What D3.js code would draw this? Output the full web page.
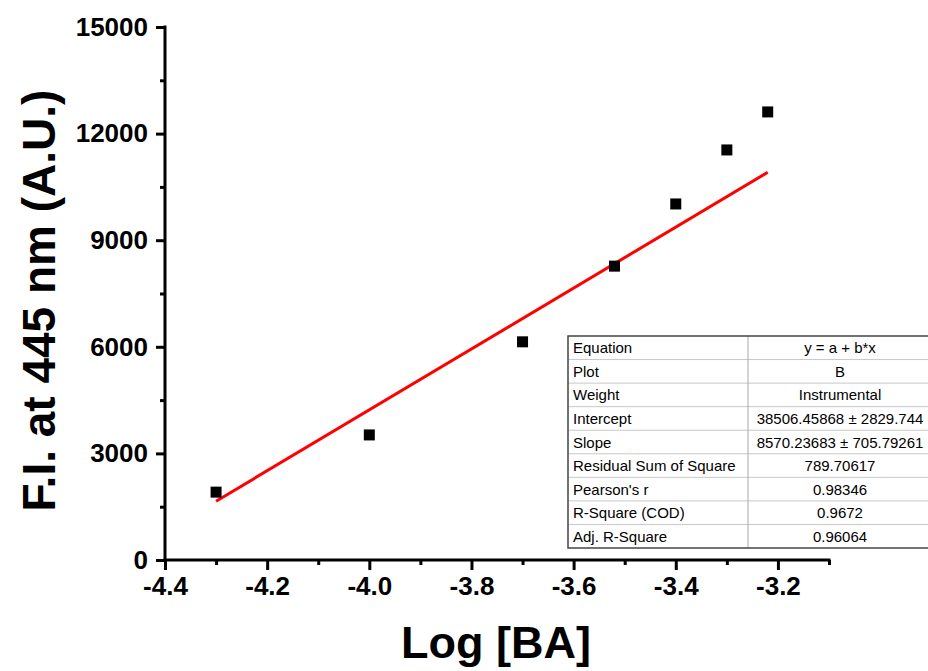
<!DOCTYPE html>
<html>
<head>
<meta charset="utf-8">
<script src="https://cdn.jsdelivr.net/npm/d3@7"></script>
<style>
  html, body { margin: 0; padding: 0; background: #fff; }
  svg { display: block; }
  text { font-family: "Liberation Sans", Arial, sans-serif; }
</style>
</head>
<body>
<svg id="chart" width="928" height="671"></svg>
<script>
// ---- data ----
const logBA = [-4.30, -4.00, -3.70, -3.52, -3.40, -3.30, -3.22];
const fluorescence = [1910, 3520, 6140, 8270, 10020, 11540, 12610];

const xMajorTicks = [-4.4, -4.2, -4.0, -3.8, -3.6, -3.4, -3.2];
const xMinorTicks = [-4.3, -4.1, -3.9, -3.7, -3.5, -3.3, -3.1];
const yMajorTicks = [0, 3000, 6000, 9000, 12000, 15000];
const yMinorTicks = [1500, 4500, 7500, 10500, 13500];

const fitIntercept = 38506.45868;
const fitSlope = 8570.23683;

const tableLabels = ["Equation", "Plot", "Weight", "Intercept", "Slope",
  "Residual Sum of Square", "Pearson's r", "R-Square (COD)", "Adj. R-Square"];
const tableValues = ["y = a + b*x", "B", "Instrumental", "38506.45868 ± 2829.744",
  "8570.23683 ± 705.79261", "789.70617", "0.98346", "0.9672", "0.96064"];

const xTitle = "Log [BA]";
const yTitle = "F.I. at 445 nm (A.U.)";

// ---- layout ----
const svg = d3.select("#chart");
const x = d3.scaleLinear().domain([-4.4, -3.1]).range([165, 829]);
const y = d3.scaleLinear().domain([0, 15000]).range([560, 27]);

const tickFont = "bold 26px 'Liberation Sans', Arial, sans-serif";
const fmtX = d => d.toFixed(1);   // plain hyphen-minus

// x axis
const xAxisG = svg.append("g").attr("transform", `translate(0,${y(0)})`);
xAxisG.call(d3.axisBottom(x).tickValues(xMajorTicks).tickSize(10).tickPadding(7)
  .tickFormat(fmtX));
const xMinorG = svg.append("g").attr("transform", `translate(0,${y(0)})`);
xMinorG.call(d3.axisBottom(x).tickValues(xMinorTicks).tickSize(5).tickFormat(""));

// y axis
const yAxisG = svg.append("g").attr("transform", `translate(${x(-4.4)},0)`);
yAxisG.call(d3.axisLeft(y).tickValues(yMajorTicks).tickSize(9).tickPadding(8)
  .tickFormat(d => String(d)));
const yMinorG = svg.append("g").attr("transform", `translate(${x(-4.4)},0)`);
yMinorG.call(d3.axisLeft(y).tickValues(yMinorTicks).tickSize(5).tickFormat(""));

[xAxisG, xMinorG, yAxisG, yMinorG].forEach(g => {
  g.select(".domain").remove();
  g.selectAll(".tick line").attr("stroke", "#000").attr("stroke-width", 3);
  g.selectAll(".tick text").style("font", tickFont).attr("fill", "#000");
});
svg.append("line")
  .attr("x1", x(-4.4) - 1.5).attr("x2", x(-3.1) + 1.5)
  .attr("y1", y(0)).attr("y2", y(0))
  .attr("stroke", "#000").attr("stroke-width", 3);
svg.append("line")
  .attr("x1", x(-4.4)).attr("x2", x(-4.4))
  .attr("y1", y(0) + 1.5).attr("y2", y(15000) - 1.5)
  .attr("stroke", "#000").attr("stroke-width", 3);

// fit line
const xFit = [d3.min(logBA), d3.max(logBA)];
svg.append("line")
  .attr("x1", x(xFit[0])).attr("y1", y(fitIntercept + fitSlope * xFit[0]))
  .attr("x2", x(xFit[1])).attr("y2", y(fitIntercept + fitSlope * xFit[1]))
  .attr("stroke", "#ff0000").attr("stroke-width", 3);

// markers
const ms = 11;
svg.append("g").selectAll("rect").data(logBA).join("rect")
  .attr("x", (d) => x(d) - ms / 2)
  .attr("y", (d, i) => y(fluorescence[i]) - ms / 2)
  .attr("width", ms).attr("height", ms)
  .attr("fill", "#000");

// axis titles
svg.append("text")
  .attr("x", (x(-4.4) + x(-3.1)) / 2 - 1).attr("y", 658)
  .attr("text-anchor", "middle")
  .style("font", "bold 45px 'Liberation Sans', Arial, sans-serif")
  .text(xTitle);
svg.append("text")
  .attr("transform", `translate(55,${(y(0) + y(15000)) / 2 + 7}) rotate(-90)`)
  .attr("text-anchor", "middle")
  .style("font", "bold 46px 'Liberation Sans', Arial, sans-serif")
  .text(yTitle);

// stats table
const tx = 568, ty = 336, tw = 366, rh = (548 - 336) / tableLabels.length, colX = 748;
const tbl = svg.append("g");
tbl.append("rect").attr("x", tx).attr("y", ty).attr("width", tw)
  .attr("height", rh * tableLabels.length).attr("fill", "#fff");
tableLabels.forEach((lab, i) => {
  if (i > 0) {
    tbl.append("line").attr("x1", tx).attr("x2", tx + tw)
      .attr("y1", ty + i * rh).attr("y2", ty + i * rh)
      .attr("stroke", "#c8c8c8").attr("stroke-width", 1);
  }
  tbl.append("text").attr("x", tx + 5).attr("y", ty + i * rh + rh / 2 + 5.5)
    .style("font", "15px 'Liberation Sans', Arial, sans-serif").attr("fill", "#000")
    .text(lab);
  tbl.append("text").attr("x", 840).attr("y", ty + i * rh + rh / 2 + 5.5)
    .attr("text-anchor", "middle")
    .style("font", "15px 'Liberation Sans', Arial, sans-serif").attr("fill", "#000")
    .text(tableValues[i]);
});
tbl.append("line").attr("x1", colX).attr("x2", colX)
  .attr("y1", ty).attr("y2", ty + rh * tableLabels.length)
  .attr("stroke", "#a8a8a8").attr("stroke-width", 1);
tbl.append("rect").attr("x", tx).attr("y", ty).attr("width", tw)
  .attr("height", rh * tableLabels.length)
  .attr("fill", "none").attr("stroke", "#444").attr("stroke-width", 1.5);
</script>
</body>
</html>
